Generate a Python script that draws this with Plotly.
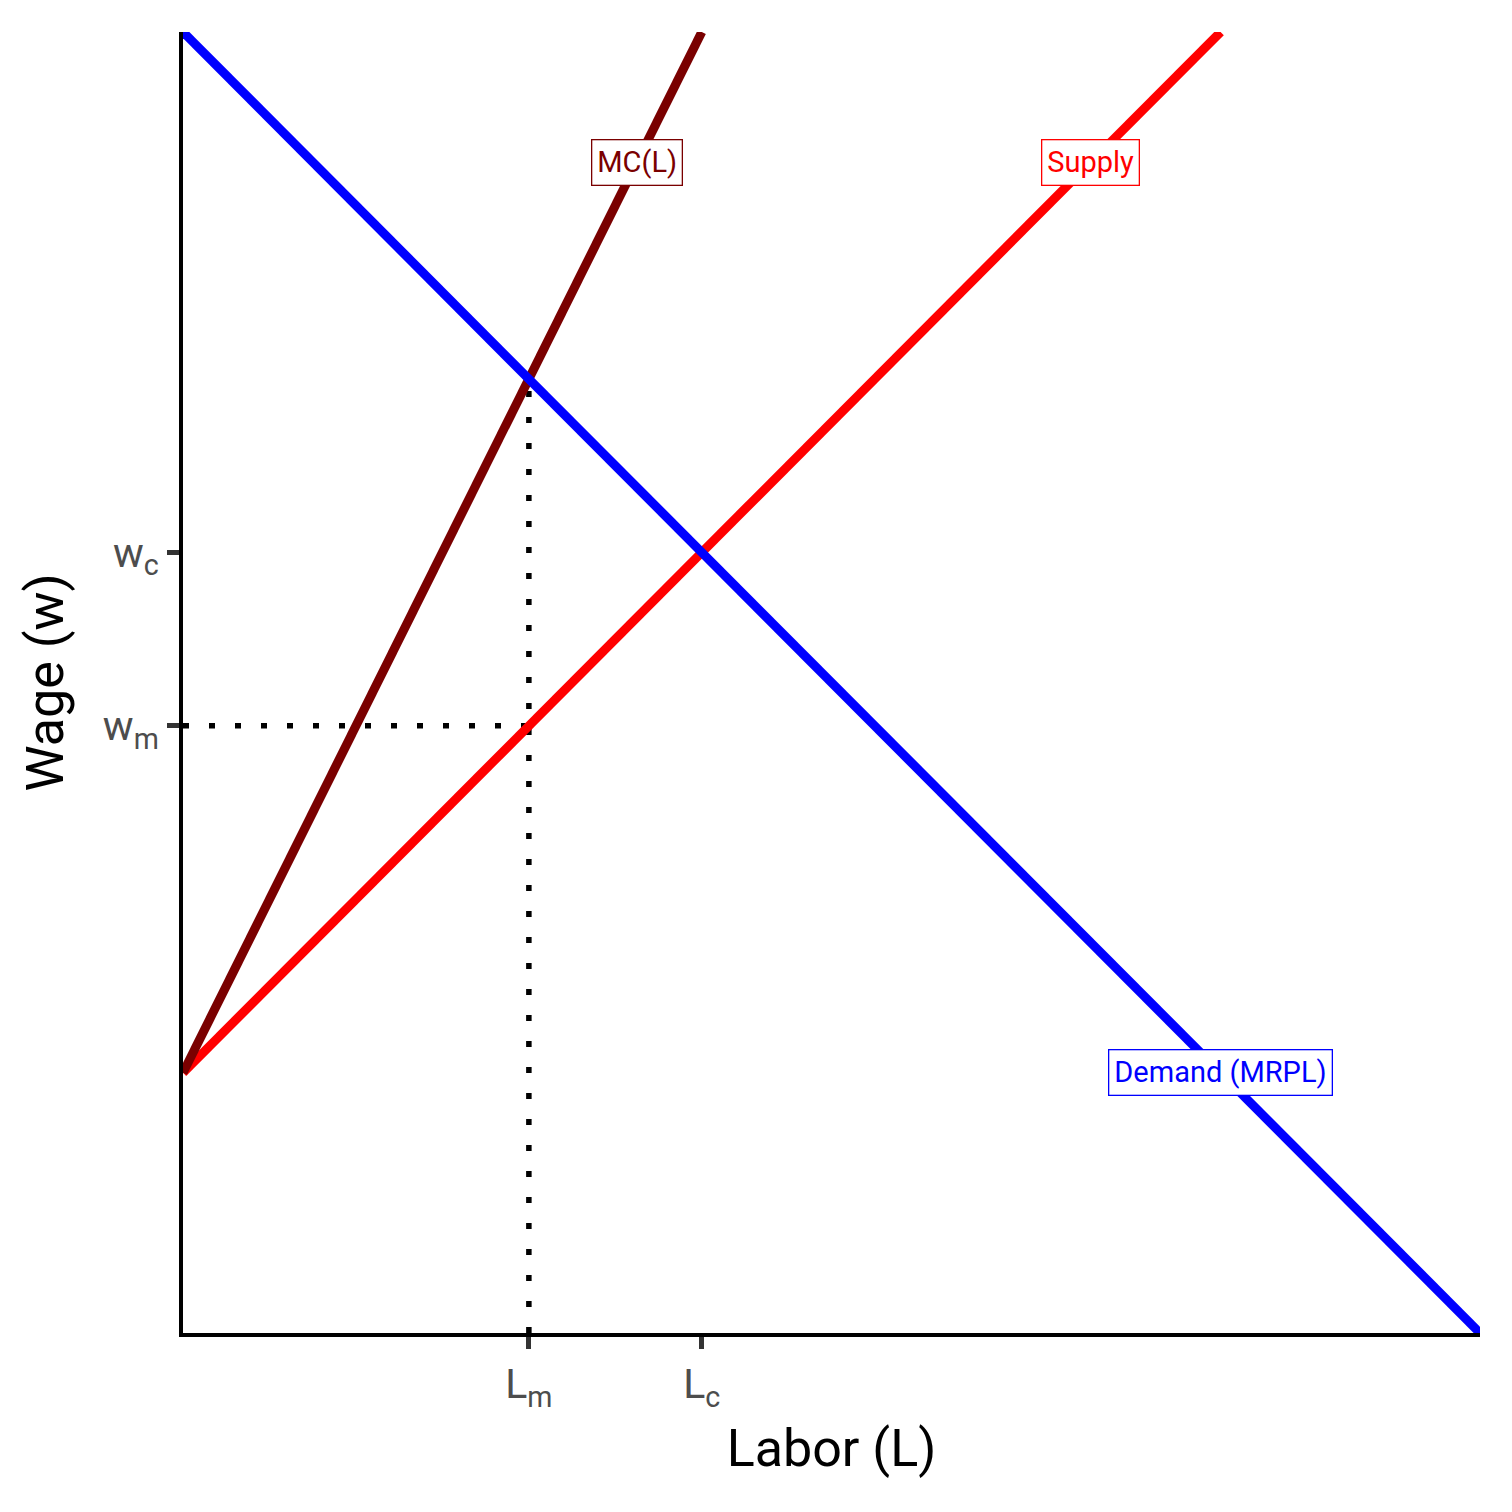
import plotly.graph_objects as go

# Curves (data units)
demand_x = [0, 10]
demand_y = [10, 0]
supply_x = [0, 8]
supply_y = [2, 10]
mc_x = [0, 4]
mc_y = [2, 10]

# Key values
L_m, L_c = 8 / 3, 4.0
w_m, w_c = 2 + 8 / 3, 6.0
mrpl_at_Lm = 10 - 8 / 3

x_tickvals = [L_m, L_c]
x_ticktext = ["L<sub>m</sub>", "L<sub>c</sub>"]
y_tickvals = [w_m, w_c]
y_ticktext = ["w<sub>m</sub>", "w<sub>c</sub>"]

labels = ["MC(L)", "Supply", "Demand (MRPL)"]
label_x = [3.5, 7.0, 8.0]
label_y = [9.0, 9.0, 2.0]
colors = ["#7a0000", "#ff0000", "#0000ff"]

FONT = "Roboto"

fig = go.Figure()
# dotted guides
dot = dict(color="black", width=5.5, dash="6px,20px")
fig.add_trace(go.Scatter(x=[0, L_m], y=[w_m, w_m], mode="lines", line=dot, showlegend=False))
fig.add_trace(go.Scatter(x=[L_m, L_m], y=[0, mrpl_at_Lm], mode="lines", line=dot, showlegend=False))
fig.add_trace(go.Scatter(x=supply_x, y=supply_y, mode="lines",
                         line=dict(color=colors[1], width=9), showlegend=False))
fig.add_trace(go.Scatter(x=mc_x, y=mc_y, mode="lines",
                         line=dict(color=colors[0], width=9), showlegend=False))
fig.add_trace(go.Scatter(x=demand_x, y=demand_y, mode="lines",
                         line=dict(color=colors[2], width=9), showlegend=False))

for t, x, y, c in zip(labels, label_x, label_y, colors):
    fig.add_annotation(x=x, y=y, text=t, showarrow=False,
                       font=dict(family=FONT, size=29, color=c),
                       bgcolor="white", bordercolor=c, borderwidth=1.3, borderpad=5)

# page body has an 8px margin, so shift everything up/left by 8px
fig.update_layout(
    width=1504, height=1504,
    margin=dict(l=175, r=32, t=24, b=179),
    paper_bgcolor="white", plot_bgcolor="white",
    font=dict(family=FONT),
    xaxis=dict(range=[0, 10], showgrid=False, zeroline=False,
               showline=True, linecolor="black", linewidth=4,
               ticks="outside", ticklen=12, tickwidth=4.5, tickcolor="#333333",
               tickvals=x_tickvals, ticktext=x_ticktext,
               tickfont=dict(family=FONT, size=41, color="#4d4d4d"),
               title=dict(text="Labor (L)", font=dict(family=FONT, size=52, color="black"), standoff=18)),
    yaxis=dict(range=[0, 10], showgrid=False, zeroline=False,
               showline=True, linecolor="black", linewidth=4,
               ticks="outside", ticklen=12, tickwidth=4.5, tickcolor="#333333",
               tickvals=y_tickvals, ticktext=y_ticktext,
               tickfont=dict(family=FONT, size=41, color="#4d4d4d"),
               title=dict(text="Wage (w)", font=dict(family=FONT, size=52, color="black"), standoff=24)),
)

fig.write_html("out.html")
